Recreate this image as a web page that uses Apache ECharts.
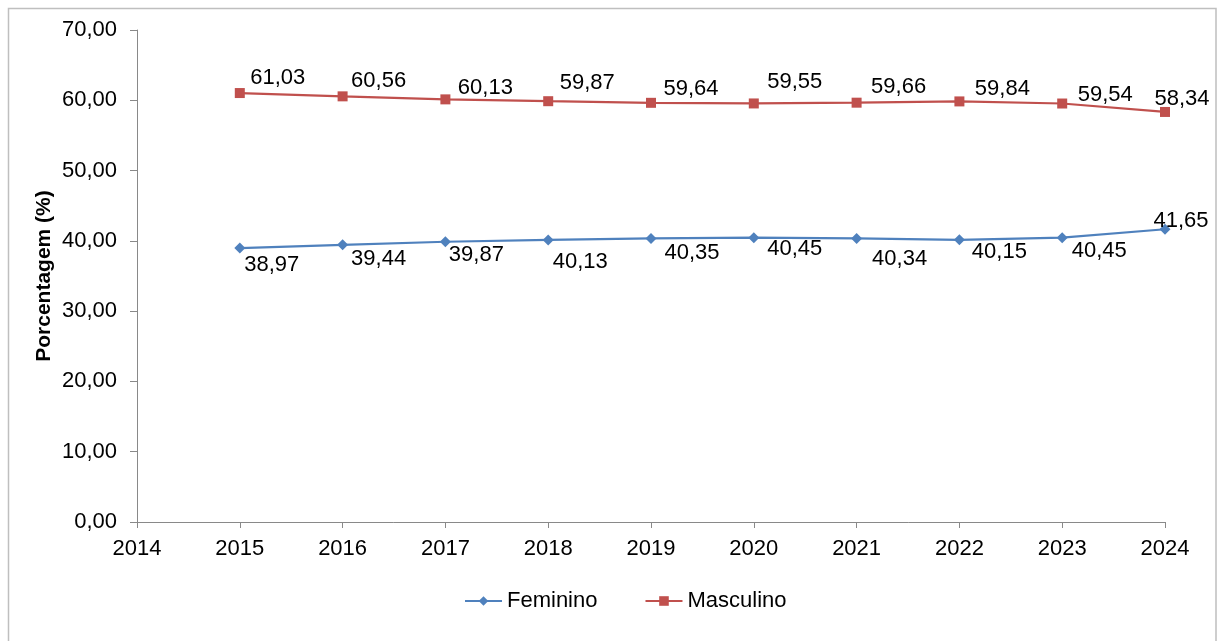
<!DOCTYPE html>
<html>
<head>
<meta charset="utf-8">
<script src="https://cdn.jsdelivr.net/npm/echarts@6/dist/echarts.min.js"></script>
<style>
html,body{margin:0;padding:0;background:#fff;}
#chart{width:1218px;height:641px;}
</style>
</head>
<body>
<div id="chart"></div>
<script>
const years = [2015, 2016, 2017, 2018, 2019, 2020, 2021, 2022, 2023, 2024];
const feminino = [38.97, 39.44, 39.87, 40.13, 40.35, 40.45, 40.34, 40.15, 40.45, 41.65];
const masculino = [61.03, 60.56, 60.13, 59.87, 59.64, 59.55, 59.66, 59.84, 59.54, 58.34];
const seriesNames = ['Feminino', 'Masculino'];
const yAxisName = 'Porcentagem (%)';

// label placement (pixel offsets of label centre from its point)
const femLabelOffsets = [[32, 17], [36, 14], [31, 13], [32, 22], [41, 15], [41, 11], [43, 20], [40, 12], [37, 13], [16, -8]];
const mascLabelOffsets = [[38, -15], [36, -15], [40, -11], [39, -18], [40, -14], [41, -22], [42, -16], [43, -12], [43, -9], [17, -13]];

const FONT = '"Liberation Sans", Arial, sans-serif';
const fmt = v => v.toFixed(2).replace('.', ',');

function pts(vals, offs) {
  return vals.map((v, i) => ({
    value: [years[i], v],
    label: { offset: offs[i] }
  }));
}

const labelBase = {
  show: true, position: 'inside', align: 'center', verticalAlign: 'middle',
  fontFamily: FONT, fontSize: 22, color: '#000',
  formatter: p => fmt(p.value[1])
};

const chart = echarts.init(document.getElementById('chart'), null, { renderer: 'canvas' });
chart.setOption({
  animation: false,
  backgroundColor: '#fff',
  graphic: [{
    type: 'rect', z: -1,
    shape: { x: 8.5, y: 8.5, width: 1207.5, height: 700 },
    style: { fill: 'none', stroke: '#BFBFBF', lineWidth: 1.5 }
  }],
  grid: { left: 137, right: 53, top: 30, bottom: 119, containLabel: false },
  legend: {
    left: 459, top: 585,
    itemWidth: 37, itemHeight: 12, itemGap: 47,
    textStyle: { fontFamily: FONT, fontSize: 22, color: '#000' },
    data: seriesNames
  },
  xAxis: {
    type: 'value', min: 2014, max: 2024, interval: 1,
    splitLine: { show: false },
    axisLine: { show: true, lineStyle: { color: '#898989', width: 1 } },
    axisTick: { show: true, length: 6, inside: false, lineStyle: { color: '#898989' } },
    axisLabel: { fontFamily: FONT, fontSize: 22, color: '#000', margin: 16, formatter: v => String(v) }
  },
  yAxis: {
    type: 'value', min: 0, max: 70, interval: 10,
    name: yAxisName, nameLocation: 'middle', nameGap: 82, nameRotate: 90,
    nameMoveOverlap: false,
    nameTextStyle: { fontFamily: FONT, fontSize: 21, fontWeight: 'bold', color: '#000' },
    splitLine: { show: false },
    axisLine: { show: true, lineStyle: { color: '#898989', width: 1 } },
    axisTick: { show: true, length: 7, lineStyle: { color: '#898989' } },
    axisLabel: { fontFamily: FONT, fontSize: 22, color: '#000', margin: 20, formatter: v => fmt(v) }
  },
  series: [
    {
      name: seriesNames[0], type: 'line',
      data: pts(feminino, femLabelOffsets),
      symbol: 'diamond', symbolSize: 11,
      itemStyle: { color: '#4F81BD' },
      lineStyle: { color: '#4F81BD', width: 2.2 },
      label: labelBase
    },
    {
      name: seriesNames[1], type: 'line',
      data: pts(masculino, mascLabelOffsets),
      symbol: 'rect', symbolSize: 10,
      itemStyle: { color: '#C0504D' },
      lineStyle: { color: '#C0504D', width: 2.2 },
      label: labelBase
    }
  ]
});
</script>
</body>
</html>
